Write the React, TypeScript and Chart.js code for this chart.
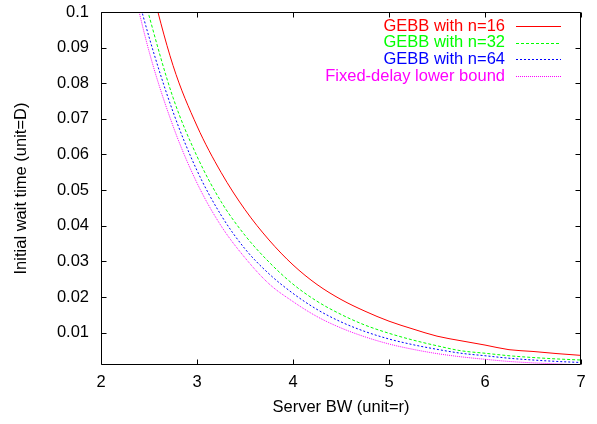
import React, { useEffect, useRef } from "react";
import { Chart, registerables } from "chart.js";

Chart.register(...registerables);

const X_VALUES = [2.25, 2.5, 2.75, 3, 3.25, 3.5, 3.75, 4, 4.25, 4.5, 4.75, 5, 5.25, 5.5, 5.75, 6, 6.25, 6.5, 6.75, 7];

const GEBB_16 = [0.140, 0.110, 0.085, 0.068, 0.055, 0.0445, 0.036, 0.029, 0.0235, 0.0193, 0.0160, 0.0132, 0.0110, 0.0090, 0.0077, 0.0065, 0.0052, 0.0047, 0.0041, 0.0036];
const GEBB_32 = [0.125, 0.099, 0.076, 0.0595, 0.0468, 0.0373, 0.0298, 0.0236, 0.0188, 0.0151, 0.0121, 0.0098, 0.0079, 0.0063, 0.0049, 0.0042, 0.0035, 0.0030, 0.0026, 0.0023];
const GEBB_64 = [0.118, 0.093, 0.072, 0.0555, 0.043, 0.0335, 0.0265, 0.021, 0.0165, 0.013, 0.0103, 0.0082, 0.0066, 0.0053, 0.0042, 0.0035, 0.0028, 0.0023, 0.0019, 0.0016];
const FIXED_DELAY = [0.117, 0.089, 0.068, 0.052, 0.040, 0.031, 0.0237, 0.0187, 0.0145, 0.0113, 0.0088, 0.0068, 0.0053, 0.0041, 0.0032, 0.0025, 0.0019, 0.0015, 0.0012, 0.0009];

const SERIES_LABELS = ["GEBB with n=16", "GEBB with n=32", "GEBB with n=64", "Fixed-delay lower bound"];

const X_TICKS = [2, 3, 4, 5, 6, 7];
const X_TICK_LABELS = ["2", "3", "4", "5", "6", "7"];
const Y_TICKS = [0.01, 0.02, 0.03, 0.04, 0.05, 0.06, 0.07, 0.08, 0.09, 0.1];
const Y_TICK_LABELS = ["0.01", "0.02", "0.03", "0.04", "0.05", "0.06", "0.07", "0.08", "0.09", "0.1"];

const FONT = "'Liberation Sans', Arial, Helvetica, sans-serif";
const FONT_SIZE = 16.5;

const STYLES = [
  { color: "#ff0000", dash: [] as number[] },
  { color: "#00ff00", dash: [3, 2] },
  { color: "#0000ff", dash: [2, 2] },
  { color: "#ff00ff", dash: [1, 1] },
];

const framePlugin = {
  id: "gnuplotFrame",
  afterDatasetsDraw(chart: any) {
    const { ctx, chartArea } = chart;
    const xs = chart.scales.x;
    const ys = chart.scales.y;
    const L = Math.round(chartArea.left) + 0.5;
    const R = Math.round(chartArea.right) - 0.5;
    const T = Math.round(chartArea.top) + 0.5;
    const B = Math.round(chartArea.bottom) - 0.5;
    ctx.save();
    ctx.strokeStyle = "#000";
    ctx.lineWidth = 1;
    ctx.setLineDash([]);
    ctx.beginPath();
    ctx.rect(L, T, R - L, B - T);
    ctx.stroke();
    const tl = 5;
    ctx.beginPath();
    X_TICKS.forEach((v) => {
      const px = Math.round(xs.getPixelForValue(v)) + 0.5;
      ctx.moveTo(px, B);
      ctx.lineTo(px, B - tl);
      ctx.moveTo(px, T);
      ctx.lineTo(px, T + tl);
    });
    Y_TICKS.forEach((v) => {
      const py = Math.round(ys.getPixelForValue(v)) + 0.5;
      ctx.moveTo(L, py);
      ctx.lineTo(L + tl, py);
      ctx.moveTo(R, py);
      ctx.lineTo(R - tl, py);
    });
    ctx.stroke();

    // legend (gnuplot style: right aligned text, sample on right)
    ctx.font = FONT_SIZE + "px " + FONT;
    ctx.textAlign = "right";
    ctx.textBaseline = "middle";
    const textRight = 505;
    const sampleL = 516;
    const sampleR = 561;
    const rowTop = 26;
    const rowH = 16.7;
    SERIES_LABELS.forEach((lab, i) => {
      const y = rowTop + i * rowH;
      ctx.fillStyle = STYLES[i].color;
      ctx.fillText(lab, textRight, y);
      ctx.strokeStyle = STYLES[i].color;
      ctx.setLineDash(STYLES[i].dash);
      ctx.beginPath();
      ctx.moveTo(sampleL, Math.round(y) + 0.5);
      ctx.lineTo(sampleR, Math.round(y) + 0.5);
      ctx.stroke();
    });
    ctx.restore();
  },
};

export default function App() {
  const ref = useRef<HTMLCanvasElement | null>(null);

  useEffect(() => {
    if (!ref.current) return;
    const seriesData = [GEBB_16, GEBB_32, GEBB_64, FIXED_DELAY];
    const chart = new Chart(ref.current, {
      type: "line",
      data: {
        datasets: seriesData.map((arr, i) => ({
          label: SERIES_LABELS[i],
          data: X_VALUES.map((x, j) => ({ x, y: arr[j] })),
          borderColor: STYLES[i].color,
          backgroundColor: STYLES[i].color,
          borderWidth: 1,
          borderDash: STYLES[i].dash,
          pointRadius: 0,
          cubicInterpolationMode: "monotone" as const,
          fill: false,
        })),
      },
      options: {
        responsive: false,
        animation: false,
        devicePixelRatio: 1,
        layout: { padding: { top: 12, right: 16, left: 0, bottom: 0 } },
        plugins: {
          legend: { display: false },
          tooltip: { enabled: false },
        },
        scales: {
          x: {
            type: "linear",
            min: 2,
            max: 7,
            grid: { display: false, drawTicks: false },
            border: { display: false },
            afterBuildTicks: (scale: any) => {
              scale.ticks = X_TICKS.map((v) => ({ value: v }));
            },
            afterFit: (scale: any) => {
              scale.height = 59;
              scale.paddingLeft = 0;
              scale.paddingRight = 0;
              scale.paddingTop = 0;
              scale.paddingBottom = 0;
            },
            ticks: {
              padding: 8,
              color: "#000",
              font: { family: FONT, size: FONT_SIZE },
              maxRotation: 0,
              callback: (_v: any, idx: number) => X_TICK_LABELS[idx],
            },
            title: {
              display: true,
              text: "Server BW (unit=r)",
              color: "#000",
              font: { family: FONT, size: FONT_SIZE },
              padding: { top: 0, bottom: 7 },
            },
          },
          y: {
            type: "linear",
            min: 0.0009,
            max: 0.1,
            grid: { display: false, drawTicks: false },
            border: { display: false },
            afterBuildTicks: (scale: any) => {
              scale.ticks = Y_TICKS.map((v) => ({ value: v }));
            },
            afterFit: (scale: any) => {
              scale.width = 101;
              scale.paddingLeft = 0;
              scale.paddingRight = 0;
              scale.paddingTop = 0;
              scale.paddingBottom = 0;
            },
            ticks: {
              padding: 12,
              color: "#000",
              font: { family: FONT, size: FONT_SIZE },
              callback: (_v: any, idx: number) => Y_TICK_LABELS[idx],
            },
            title: {
              display: true,
              text: "Initial wait time (unit=D)",
              color: "#000",
              font: { family: FONT, size: FONT_SIZE },
              padding: { top: 12, bottom: 0 },
            },
          },
        },
      },
      plugins: [framePlugin],
    });
    return () => chart.destroy();
  }, []);

  return (
    <div style={{ position: "absolute", left: 0, top: 0, width: 597, height: 424, background: "#fff" }}>
      <canvas ref={ref} width={597} height={424} style={{ display: "block" }} />
    </div>
  );
}
